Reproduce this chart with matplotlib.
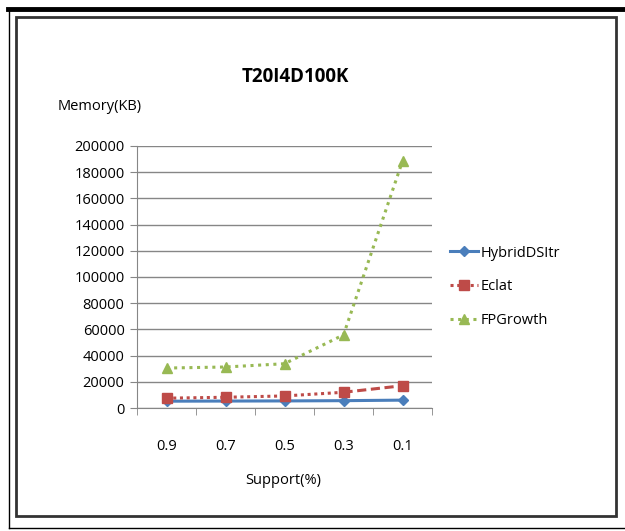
import numpy as np
import matplotlib
matplotlib.use('Agg')
import matplotlib.pyplot as plt
from matplotlib.lines import Line2D
from matplotlib.patches import Rectangle

support = ['0.9', '0.7', '0.5', '0.3', '0.1']
hybrid = [5200, 5300, 5400, 5600, 6000]
eclat = [7500, 8200, 9200, 12000, 17000]
fpgrowth = [30500, 31300, 33800, 55800, 188500]
yticks = np.arange(0, 200001, 20000)

plt.rcParams['font.family'] = ['Open Sans', 'DejaVu Sans']

W, H = 625, 531
fig = plt.figure(figsize=(W / 100, H / 100), dpi=100)
fig.patch.set_facecolor('white')

def fx(px):
    return px / W
def fy(py):
    return 1 - py / H

# outer frame
fig.add_artist(Line2D([fx(8), 1], [fy(8.5), fy(8.5)], color='black', lw=3.5))
fig.add_artist(Line2D([fx(9), fx(9)], [fy(9), fy(528)], color='black', lw=1))
fig.add_artist(Line2D([fx(9), 1], [fy(528), fy(528)], color='black', lw=1))
fig.add_artist(Rectangle((fx(16), fy(516)), fx(616) - fx(16), fy(17) - fy(516),
                         fill=False, edgecolor='#333333', lw=2))

ax = fig.add_axes([fx(137), fy(408), fx(432) - fx(137), fy(146) - fy(408)])
x = np.arange(len(support))

blue = '#4A7EBB'
red = '#BE4B48'
green = '#98B954'

ax.plot(x, hybrid, color=blue, lw=2.2, marker='D', ms=5, label='HybridDSItr', zorder=3)
ax.plot(x[:4], eclat[:4], color=red, lw=2.2, ls=(0, (1, 1.2)), zorder=3)
ax.plot(x[3:], eclat[3:], color=red, lw=2.2, ls=(0, (3, 1.5)), zorder=3)
ax.plot(x, eclat, color=red, lw=0, marker='s', ms=6.5, zorder=4)
ax.plot(x, fpgrowth, color=green, lw=2.2, ls=(0, (1, 1.5)), marker='^', ms=7.5, zorder=3)

ax.set_xlim(-0.5, len(support) - 0.5)
ax.set_ylim(0, 200000)
ax.set_yticks(yticks)
ax.set_yticklabels([str(v) for v in yticks], fontsize=10.5)
ax.set_xticks(x)
ax.set_xticklabels(support, fontsize=10.5)
ax.tick_params(axis='x', length=0, pad=22)
ax.set_xticks(np.arange(-0.5, len(support), 1), minor=True)
ax.tick_params(axis='x', which='minor', length=5, color='#868686', direction='out')
ax.tick_params(axis='y', length=5, color='#868686', direction='out', pad=4)
ax.grid(axis='y', color='#868686', lw=1)
ax.set_axisbelow(True)
for s in ['top', 'right']:
    ax.spines[s].set_visible(False)
ax.spines['left'].set_color('#868686')
ax.spines['bottom'].set_color('#868686')

fig.text(fx(295), fy(77), 'T20I4D100K', ha='center', va='center', fontsize=13.5, fontweight='bold')
fig.text(fx(100), fy(106), 'Memory(KB)', ha='center', va='center', fontsize=10.5)
fig.text(fx(283), fy(480), 'Support(%)', ha='center', va='center', fontsize=10.5)

handles = [
    Line2D([], [], color=blue, lw=2.2, marker='D', ms=5),
    Line2D([], [], color=red, lw=2.2, ls=(0, (1, 1.2)), marker='s', ms=6.5),
    Line2D([], [], color=green, lw=2.2, ls=(0, (1, 1.5)), marker='^', ms=7.5),
]
fig.legend(handles, ['HybridDSItr', 'Eclat', 'FPGrowth'], loc='center left',
           bbox_to_anchor=(fx(437), fy(287)), frameon=False, fontsize=10.5,
           handlelength=1.9, labelspacing=1.3, handletextpad=0.2)

fig.savefig('out.png', dpi=100)
